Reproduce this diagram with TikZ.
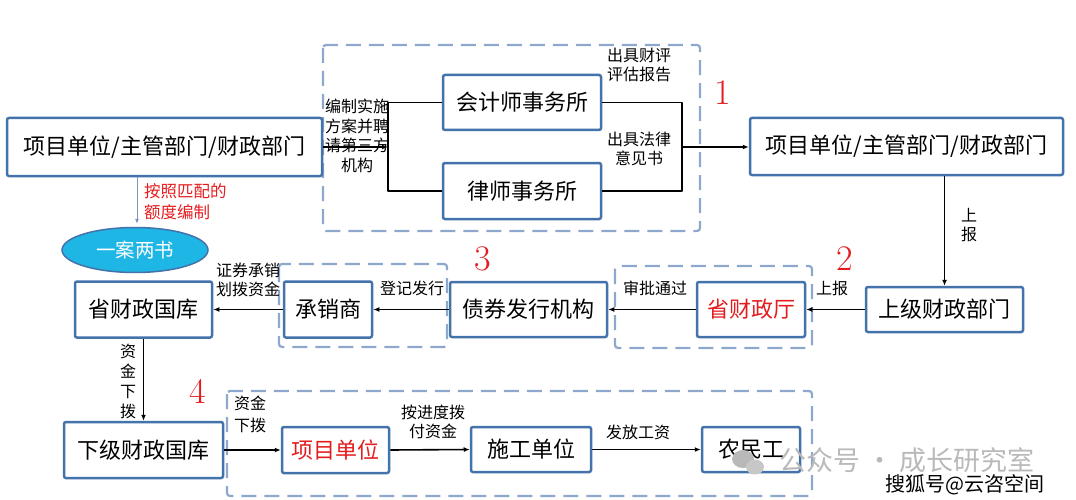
\documentclass[tikz,border=0pt]{standalone}
\usepackage{fontspec}
\newfontfamily\cjk{Noto Sans CJK SC}
\usetikzlibrary{arrows.meta,shapes.geometric}
\definecolor{boxblue}{RGB}{68,114,170}
\definecolor{dashblue}{RGB}{141,168,204}
\definecolor{numred}{RGB}{228,28,30}
\definecolor{elfill}{RGB}{30,182,228}
\definecolor{thinblue}{RGB}{120,150,190}
\definecolor{wmgray}{RGB}{185,185,185}
\begin{document}
\begin{tikzpicture}[x=1pt,y=-1pt,
  box/.style={draw=boxblue,line width=2.5pt,rounded corners=2pt,fill=white,inner sep=0pt,
    font=\cjk\fontsize{22}{26}\selectfont},
  dbox/.style={draw=dashblue,line width=2.2pt,dash pattern=on 15pt off 8pt,rounded corners=3pt},
  lbl/.style={font=\cjk\fontsize{16}{19.5}\selectfont,align=center,inner sep=0pt},
  redlbl/.style={font=\cjk\fontsize{16.5}{21}\selectfont,align=left,inner sep=0pt,text=numred},
  num/.style={text=numred,font=\fontsize{36}{36}\selectfont,inner sep=0pt},
  arr/.style={-{Latex[length=6pt,width=5pt]},line width=1.6pt,black,line join=round},
  ln/.style={line width=1.6pt,black,line join=round}]
\useasboundingbox (0,0) rectangle (1076,500);

% dashed groups
\draw[dbox] (323,45) rectangle (700,231);
\draw[dbox] (279,264) rectangle (447,347);
\draw[dbox] (615,266) rectangle (812,348);
\draw[dbox] (227,391) rectangle (812,496);

% nodes
\node[box,minimum width=315pt,minimum height=58pt] (A) at (164.5,147) {项目单位/主管部门/财政部门};
\node[box,minimum width=158pt,minimum height=55pt] (kj) at (522,102.5) {会计师事务所};
\node[box,minimum width=158pt,minimum height=56pt] (ls) at (522,191) {律师事务所};
\node[box,minimum width=313pt,minimum height=57pt] (B) at (906.5,146.5) {项目单位/主管部门/财政部门};
\node[box,minimum width=157pt,minimum height=45pt] (sj) at (944.5,309.5) {上级财政部门};
\node[box,minimum width=108pt,minimum height=55pt,text=numred] (szt) at (751,309.5) {省财政厅};
\node[box,minimum width=157pt,minimum height=55pt] (zq) at (528.5,309.5) {债券发行机构};
\node[box,minimum width=88pt,minimum height=56pt] (cx) at (328,309.5) {承销商};
\node[box,minimum width=137pt,minimum height=56pt] (gk) at (143.5,309.5) {省财政国库};
\node[box,minimum width=159pt,minimum height=56pt] (xj) at (143.5,450) {下级财政国库};
\node[box,minimum width=107pt,minimum height=46pt,text=numred] (xm) at (335.5,450) {项目单位};
\node[box,minimum width=120pt,minimum height=45pt] (sg) at (531,449.5) {施工单位};
\node[box,minimum width=98pt,minimum height=45pt] (nm) at (751,449.5) {农民工};
\node[ellipse,draw=boxblue,line width=1.5pt,fill=elfill,minimum width=146pt,minimum height=45pt,
  inner sep=0pt,text=white,font=\cjk\fontsize{19.5}{22}\selectfont] (el) at (135,250) {一案两书};

% connectors
\coordinate (b1) at (388,147);
\coordinate (b2) at (682,147);
\draw[arr] (A.east) -- (b1);
\draw[ln] (kj.west) -- (kj.west -| b1) -- (ls.west -| b1) -- (ls.west);
\draw[ln] (kj.east) -- (kj.east -| b2) -- (ls.east -| b2) -- (ls.east);
\draw[arr] (b2) -- (b2 -| B.west);
\draw[arr] (B.south -| sj.north) -- (sj.north);
\draw[arr] (sj.west) -- (szt.east);
\draw[arr] (szt.west) -- (zq.east);
\draw[arr] (zq.west) -- (cx.east);
\draw[arr] (cx.west) -- (gk.east);
\draw[arr] (gk.south) -- (xj.north);
\draw[arr] (xj.east) -- (xm.west);
\draw[arr] (xm.east) -- (sg.west);
\draw[arr] (sg.east) -- (nm.west);
\draw[-{Latex[length=5pt,width=4pt]},line width=0.8pt,thinblue,shorten >=3pt]
  ([xshift=2pt]A.south -| el.north) -- ([xshift=2pt]el.north);

% labels
\node[lbl] (l1) at (357,136) {编制实施\\方案并聘\\请第三方\\机构};
\node[lbl] (l2) at (639,65) {出具财评\\评估报告};
\node[lbl] (l3) at (639,149) {出具法律\\意见书};
\node[lbl] (l4) at (969,225) {上\\报};
\node[lbl] (l5) at (832,288) {上报};
\node[lbl] (l6) at (655,288) {审批通过};
\node[lbl] (l7) at (412,288) {登记发行};
\node[lbl] (l8) at (248,280) {证券承销\\划拨资金};
\node[lbl,font=\cjk\fontsize{16}{19.7}\selectfont] (l9) at (128,381.5) {资\\金\\下\\拨};
\node[lbl,font=\cjk\fontsize{16}{22}\selectfont] (l10) at (250,414) {资金\\下拨};
\node[lbl] (l11) at (433,422) {按进度拨\\付资金};
\node[lbl] (l12) at (638,432) {发放工资};
\node[redlbl,anchor=west] (l13) at (144,201.5) {按照匹配的\\额度编制};

% numbers
\node[num] (n1) at (723,93) {1};
\node[num] (n2) at (845,259) {2};
\node[num] (n3) at (483,259) {3};
\node[num] (n4) at (198,391) {4};

% watermarks
\fill[wmgray] (743,459) ellipse (11pt and 9pt);
\fill[wmgray!80] (755,467) ellipse (9pt and 7.5pt);
\node[inner sep=0pt,text=wmgray,font=\cjk\fontsize{27}{30}\selectfont] (w1) at (907,460) {公众号 · 成长研究室};
\node[inner sep=0pt,text=black,font=\cjk\fontsize{20}{23}\selectfont] (w2) at (965,485) {搜狐号@云咨空间};
\end{tikzpicture}
\end{document}
